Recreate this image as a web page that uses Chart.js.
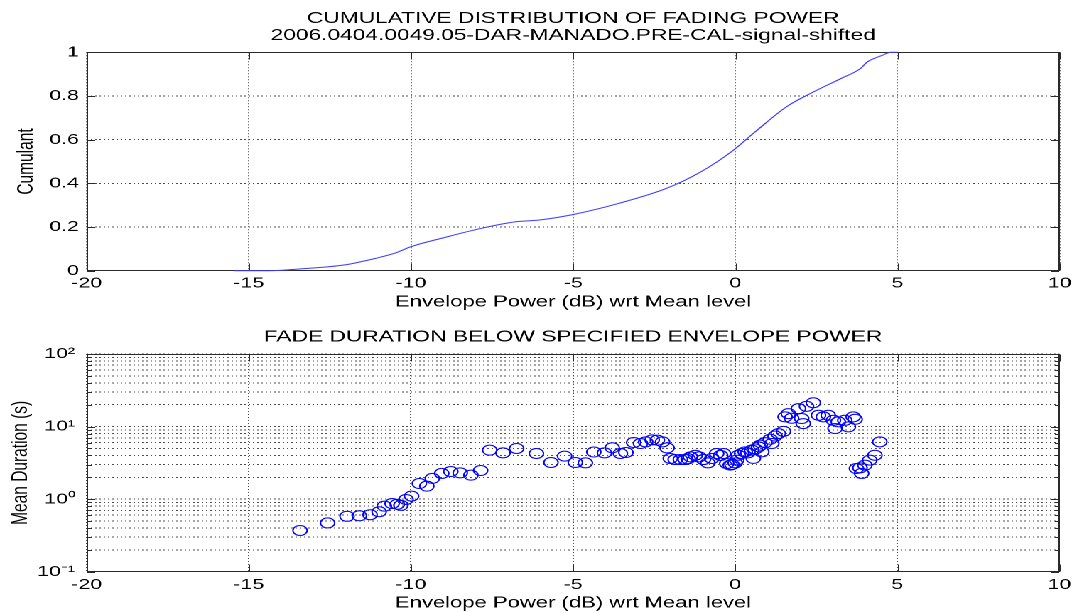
<!DOCTYPE html>
<html>
<head>
<meta charset="utf-8">
<title>Cumulative distribution of fading power</title>
<script src="https://cdn.jsdelivr.net/npm/chart.js@4.4.1/dist/chart.umd.min.js"></script>
<style>
  html, body { margin: 0; padding: 0; background: #fff; overflow: hidden; }
  /* the original figure is stretched sideways, so draw narrow and widen it */
  #wrap { position: absolute; left: 0; top: 0; width: 758px; height: 613px;
          transform: scaleX(1.4208); transform-origin: 0 0; }
  #wrap canvas { position: absolute; left: 0; }
</style>
</head>
<body>
<div id="wrap">
  <canvas id="cdfChart" width="758" height="312" style="top:0"></canvas>
  <canvas id="fadeChart" width="758" height="301" style="top:312px"></canvas>
</div>
<script>
const FONT = "'Liberation Sans', Arial, Helvetica, sans-serif";

// axis ticks
const xTicks = [-20, -15, -10, -5, 0, 5, 10];
const cdfTicks = [0, 0.2, 0.4, 0.6, 0.8, 1];
const cdfTickLabels = ["0", "0.2", "0.4", "0.6", "0.8", "1"];
const durDecades = [0.1, 1, 10, 100];
const durTickLabels = ["10⁻¹", "10⁰", "10¹", "10²"];

// cumulative distribution (top)
const cdfPower = [-15.46, -14.35, -13.6, -13.13, -12.07, -11.11, -10.5, -10.0, -8.99, -7.83, -6.77, -6.04,
  -4.98, -3.6, -2.12, -1.06, -0.12, 0.62, 1.58, 2.32, 3.27, 3.85, 4.06, 4.53, 4.8, 5.0];
const cdfValue = [0, 0, 0.006, 0.011, 0.026, 0.056, 0.08, 0.11, 0.151, 0.194, 0.224, 0.232,
  0.258, 0.308, 0.377, 0.453, 0.545, 0.637, 0.751, 0.812, 0.881, 0.925, 0.955, 0.986, 1.0, 1.0];

// mean fade duration (bottom)
const fadePower = [-13.42, -12.57, -11.97, -11.59, -11.26, -10.98, -10.82, -10.58, -10.42, -10.31, -10.15, -9.98,
  -9.74, -9.51, -9.34, -9.05, -8.77, -8.48, -8.15, -7.85, -7.57, -7.16, -6.74, -6.13, -5.68, -5.26, -4.93, -4.62,
  -4.36, -4.03, -3.79, -3.54, -3.37, -3.13, -2.92, -2.76, -2.56, -2.40, -2.24, -2.10, -2.00, -1.85, -1.69, -1.54,
  -1.45, -1.38, -1.23, -1.11, -0.98, -0.84, -0.72, -0.57, -0.45, -0.36, -0.26, -0.15, -0.10, 0.00, 0.05, 0.10,
  0.20, 0.31, 0.39, 0.51, 0.56, 0.62, 0.72, 0.77, 0.82, 0.92, 1.08, 1.13, 1.23, 1.33, 1.49, 1.54, 1.64, 1.74,
  1.95, 2.05, 2.10, 2.20, 2.41, 2.57, 2.72, 2.87, 3.03, 3.08, 3.18, 3.38, 3.49, 3.64, 3.70, 3.74, 3.85, 3.90,
  4.00, 4.15, 4.31, 4.46];
const fadeDuration = [0.37, 0.47, 0.58, 0.59, 0.61, 0.67, 0.80, 0.87, 0.85, 0.82, 0.99, 1.10,
  1.64, 1.51, 1.93, 2.26, 2.40, 2.30, 2.14, 2.48, 4.73, 4.34, 4.99, 4.26, 3.20, 3.92, 3.20, 3.16,
  4.46, 4.34, 5.10, 4.26, 4.40, 6.04, 5.84, 6.16, 6.56, 6.50, 6.16, 5.08, 3.63, 3.51, 3.51, 3.51,
  3.60, 3.82, 4.03, 3.82, 3.51, 3.16, 3.63, 4.26, 4.00, 4.26, 3.10, 2.94, 3.00, 3.16, 3.45, 4.03,
  4.26, 4.48, 4.34, 4.73, 3.64, 4.90, 5.25, 5.54, 4.48, 6.00, 6.70, 5.84, 7.40, 8.00, 8.60, 13.6, 15.1, 13.0,
  17.7, 12.9, 11.0, 19.0, 21.3, 14.3, 13.6, 14.3, 12.2, 9.4, 11.6, 12.2, 9.9, 13.6, 12.6, 2.64, 2.70, 2.26,
  2.94, 3.45, 4.03, 6.16];

// box round the plot with inward tick marks, like the original
const matlabBox = {
  id: "matlabBox",
  beforeDatasetsDraw(chart) {
    const { ctx, chartArea: a, scales: { x, y } } = chart;
    const L = Math.round(a.left) + 0.5, R = Math.round(a.right) - 0.5;
    const T = Math.round(a.top) + 0.5, B = Math.round(a.bottom) - 0.5;
    ctx.save();
    ctx.setLineDash([]);
    ctx.lineWidth = 1;
    ctx.strokeStyle = "#2a2a2a";
    ctx.beginPath();
    ctx.rect(L, T, R - L, B - T);
    x.ticks.forEach(t => {
      const p = Math.round(x.getPixelForValue(t.value)) + 0.5;
      ctx.moveTo(p, B); ctx.lineTo(p, B - 7);
      ctx.moveTo(p, T); ctx.lineTo(p, T + 7);
    });
    y.ticks.forEach(t => {
      const p = Math.round(y.getPixelForValue(t.value)) + 0.5;
      const len = t.label ? 5.5 : 3;
      ctx.moveTo(L, p); ctx.lineTo(L + len, p);
      ctx.moveTo(R, p); ctx.lineTo(R - len, p);
    });
    ctx.stroke();
    ctx.restore();
  }
};

function xScale(labelPad) {
  return {
    type: "linear", min: -20, max: 10,
    afterFit: s => { s.height = 41.3; },
    afterBuildTicks: s => { s.ticks = xTicks.map(v => ({ value: v })); },
    ticks: { color: "#000", font: { family: FONT, size: 15 }, padding: labelPad, maxRotation: 0, autoSkip: false,
      callback: v => String(v) },
    grid: { color: "rgba(0,0,0,0.7)", drawTicks: false, borderDash: [1, 2] },
    border: { display: false, dash: [1, 2] },
    title: { display: true, text: "Envelope Power (dB) wrt Mean level", color: "#000",
      font: { family: FONT, size: 15.5 }, padding: { top: 0, bottom: 0.5 } }
  };
}

const common = {
  responsive: false,
  animation: false,
  devicePixelRatio: 2,
  events: [],
  layout: { padding: { left: 0, right: 11.2, top: 0, bottom: 0 } }
};

new Chart(document.getElementById("cdfChart"), {
  type: "line",
  data: { datasets: [{
    data: cdfPower.map((x, i) => ({ x, y: cdfValue[i] })),
    borderColor: "rgb(60,60,255)",
    borderWidth: 1,
    pointRadius: 0,
    cubicInterpolationMode: "monotone",
    clip: false
  }] },
  options: {
    ...common,
    plugins: {
      legend: { display: false },
      tooltip: { enabled: false },
      title: {
        display: true, fullSize: false, color: "#000",
        text: ["CUMULATIVE DISTRIBUTION OF FADING POWER", "2006.0404.0049.05-DAR-MANADO.PRE-CAL-signal-shifted"],
        font: { family: FONT, size: 16, weight: "normal", lineHeight: "17px" },
        padding: { top: 10, bottom: 8.3 }
      }
    },
    scales: {
      x: xScale(3.8),
      y: {
        type: "linear", min: 0, max: 1,
        afterFit: s => { s.width = 61; },
        afterBuildTicks: s => { s.ticks = cdfTicks.map(v => ({ value: v })); },
        ticks: { color: "#000", font: { family: FONT, size: 15 }, padding: 5.4, autoSkip: false,
          callback: v => { const i = cdfTicks.findIndex(t => Math.abs(t - v) < 1e-9); return i >= 0 ? cdfTickLabels[i] : ""; } },
        grid: { color: "rgba(0,0,0,0.7)", drawTicks: false, borderDash: [1, 2] },
        border: { display: false, dash: [1, 2] },
        title: { display: true, text: "Cumulant", color: "#000", font: { family: FONT, size: 15.5 },
          padding: { top: 9.5, bottom: 0 } }
      }
    }
  },
  plugins: [matlabBox]
});

new Chart(document.getElementById("fadeChart"), {
  type: "scatter",
  data: { datasets: [{
    data: fadePower.map((x, i) => ({ x, y: fadeDuration[i] })),
    showLine: false,
    pointStyle: "circle",
    pointRadius: 5,
    pointBorderWidth: 1,
    pointBorderColor: "#0000ff",
    pointBackgroundColor: "rgba(0,0,0,0)",
    clip: false
  }] },
  options: {
    ...common,
    plugins: {
      legend: { display: false },
      tooltip: { enabled: false },
      title: {
        display: true, fullSize: false, color: "#000",
        text: "FADE DURATION BELOW SPECIFIED ENVELOPE POWER",
        font: { family: FONT, size: 16, weight: "normal", lineHeight: "17px" },
        padding: { top: 16.5, bottom: 8.5 }
      }
    },
    scales: {
      x: xScale(4),
      y: {
        type: "logarithmic", min: 0.1, max: 100,
        afterFit: s => { s.width = 61; },
        afterBuildTicks: s => {
          const t = [];
          durDecades.forEach((d, i) => {
            if (i === durDecades.length - 1) { t.push({ value: d }); return; }
            for (let k = 1; k < 10; k++) t.push({ value: +(k * d).toPrecision(3) });
          });
          s.ticks = t;
        },
        ticks: { color: "#000", font: { family: FONT, size: 15 }, padding: 8.2, autoSkip: false,
          callback: v => { const i = durDecades.findIndex(d => Math.abs(d - v) < d * 1e-6); return i >= 0 ? durTickLabels[i] : ""; } },
        grid: { color: "rgba(0,0,0,0.7)", drawTicks: false, borderDash: [1, 2] },
        border: { display: false, dash: [1, 2] },
        title: { display: true, text: "Mean Duration (s)", color: "#000", font: { family: FONT, size: 15.5 },
          padding: { top: 5.5, bottom: 0 } }
      }
    }
  },
  plugins: [matlabBox]
});
</script>
</body>
</html>
